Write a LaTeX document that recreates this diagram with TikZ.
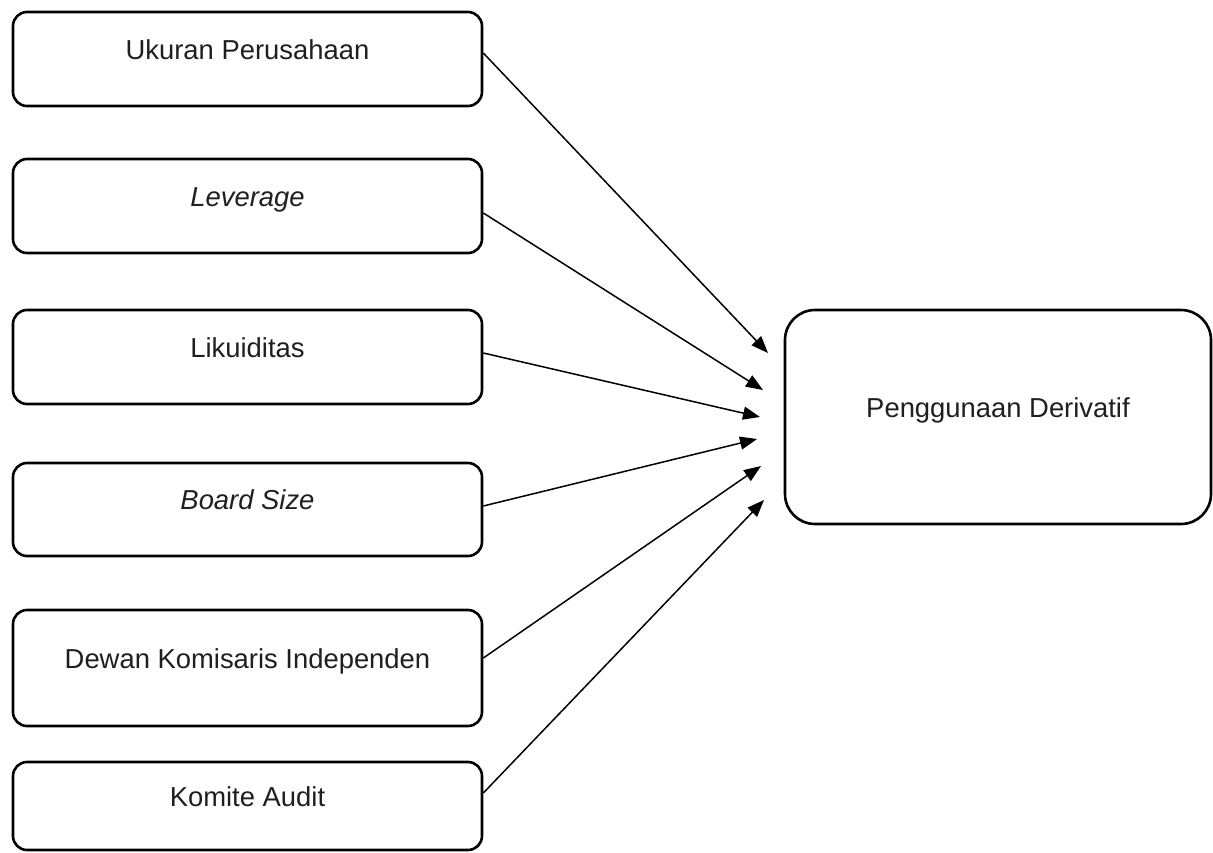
\documentclass[tikz,border=0pt]{standalone}
\usepackage{fontspec}
\setmainfont{Liberation Sans}
\usetikzlibrary{arrows.meta}
\begin{document}
\begin{tikzpicture}[x=1pt,y=-1pt,
  varbox/.style={draw=black, line width=2.6pt, rounded corners=14pt, minimum width=469pt,
    inner sep=0pt, text height=10pt, text depth=10pt, font=\fontsize{27.4}{32}\selectfont, text=black!88},
  depbox/.style={draw=black, line width=2.6pt, rounded corners=30pt, minimum width=426pt, minimum height=214pt,
    inner sep=0pt, text height=10pt, text depth=10pt, font=\fontsize{27.4}{32}\selectfont, text=black!88},
  conn/.style={line width=1.5pt, -{Triangle[length=17pt,width=13pt]}}]
\useasboundingbox (0,0) rectangle (1213,852);
\clip (0,0) rectangle (1213,852);
\fill[white] (0,0) rectangle (1213,852);
\node[varbox, minimum height=94pt] (b1) at (247.5,59) {Ukuran Perusahaan};
\node[varbox, minimum height=94pt] (b2) at (247.5,206) {\itshape Leverage};
\node[varbox, minimum height=94pt] (b3) at (247.5,357) {Likuiditas};
\node[varbox, minimum height=93pt] (b4) at (247.5,509.5) {\itshape Board Size};
\node[varbox, minimum height=116pt] (b5) at (247.5,668) {Dewan Komisaris Independen};
\node[varbox, minimum height=88pt] (b6) at (247.5,806) {Komite Audit};
\node[depbox] (dv) at (998,417) {Penggunaan Derivatif};
\coordinate (t1) at (768,353);
\coordinate (t2) at (763,390);
\coordinate (t3) at (760,417);
\coordinate (t4) at (757,439);
\coordinate (t5) at (761,466);
\coordinate (t6) at (764,500);
\draw[conn] ([yshift=6pt]b1.east) -- (t1);
\draw[conn] ([yshift=-7pt]b2.east) -- (t2);
\draw[conn] ([yshift=4pt]b3.east) -- (t3);
\draw[conn] ([yshift=3.5pt]b4.east) -- (t4);
\draw[conn] ([yshift=10pt]b5.east) -- (t5);
\draw[conn] ([yshift=13pt]b6.east) -- (t6);
\end{tikzpicture}
\end{document}
